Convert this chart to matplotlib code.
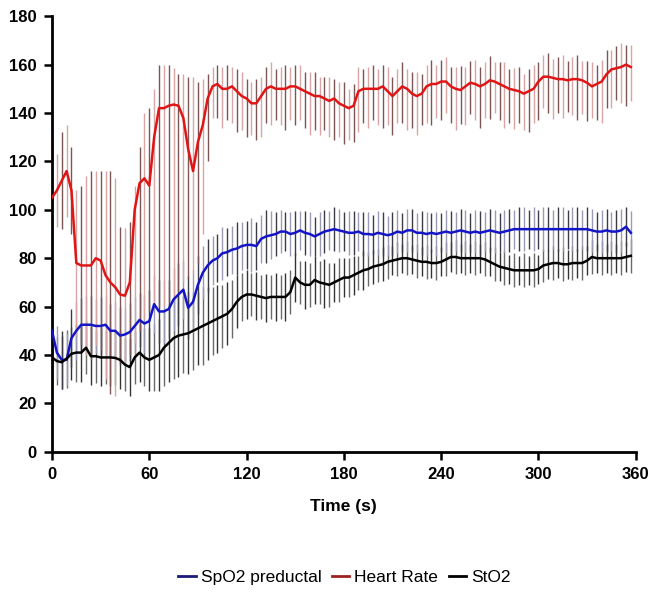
import numpy as np
import matplotlib
matplotlib.use("Agg")
import matplotlib.pyplot as plt
from matplotlib.lines import Line2D

plt.rcParams['font.family'] = ['Liberation Sans', 'DejaVu Sans']

# time grid (s)
time_s = list(range(0, 360, 3))

heart_rate = [105, 108, 112, 116, 108, 78, 77, 77, 77, 80, 79, 73, 70, 68, 65, 64.5, 70, 100, 111, 113,
              110, 130, 142, 142, 143, 143.5, 143, 138, 125, 116, 128, 135, 146, 151, 152, 150, 150, 151, 149, 147,
              146, 144, 144, 147, 150, 151, 150, 150, 150, 151, 151, 150, 149, 148, 147, 147, 146, 145, 146, 144,
              143, 142, 143, 149, 150, 150, 150, 150, 151, 149, 147, 149, 151, 150, 148, 147, 148, 151, 152, 152,
              153, 153, 151, 150, 149.5, 151, 152.5, 152, 151, 152, 153.5, 153, 152, 151, 150, 149.5, 149, 148, 149, 150,
              153, 155, 155, 154.5, 154, 154, 153.5, 154, 154, 153.5, 152.5, 151, 152, 153, 156, 158, 158.5, 159, 160, 159]
heart_rate_err_high = [22, 15, 20, 19, 18, 30, 33, 37, 39, 36, 37, 43, 46, 45, 28, 28, 25, 10, 15, 27,
                       32, 20, 18, 18, 17, 15, 13, 18, 30, 39, 25, 19, 10, 8, 8, 9, 10, 8, 9, 10,
                       8, 9, 10, 8, 9, 10, 8, 9, 10, 8, 9, 10, 8, 9, 10, 8, 9, 10, 8, 9,
                       10, 8, 9, 10, 8, 9, 10, 8, 9, 10, 8, 9, 10, 8, 9, 10, 8, 9, 10, 8,
                       9, 10, 8, 9, 10, 8, 9, 10, 8, 9, 10, 8, 9, 10, 8, 9, 10, 8, 9, 10,
                       8, 9, 10, 8, 9, 10, 8, 9, 10, 8, 9, 10, 8, 9, 10, 8, 9, 10, 8, 9]
heart_rate_err_low = [22, 15, 20, 19, 18, 30, 33, 37, 39, 36, 37, 43, 46, 45, 28, 28, 30, 55, 61, 58,
                      52, 70, 82, 82, 81, 80, 77, 68, 53, 42, 50, 45, 26, 13, 14, 16, 13, 15, 17, 14,
                      16, 13, 15, 17, 14, 16, 13, 15, 17, 14, 16, 13, 15, 17, 14, 16, 13, 15, 17, 14,
                      16, 13, 15, 17, 14, 16, 13, 15, 17, 14, 16, 13, 15, 17, 14, 16, 13, 15, 17, 14,
                      16, 13, 15, 17, 14, 16, 13, 15, 17, 14, 16, 13, 15, 17, 14, 16, 13, 15, 17, 14,
                      16, 13, 15, 17, 14, 16, 13, 15, 17, 14, 16, 13, 15, 17, 14, 16, 13, 15, 17, 14]

spo2 = [50, 41, 38, 38, 47, 50, 52.5, 52.5, 52.5, 52, 52, 52.5, 50, 50, 48, 48.5, 49.5, 52, 54.5, 53,
        54, 61, 58, 58, 59, 63, 65, 67, 59.5, 62, 69, 74, 77, 79, 80, 82, 82.5, 83.5, 84, 85,
        85.5, 85.5, 85, 88, 89, 89.5, 90, 91, 91, 90, 90.5, 91.5, 90.5, 90, 89, 90, 91, 91.5, 92, 91.5,
        91, 90.5, 90.5, 91, 90, 90, 89.7, 90.5, 90, 89.5, 90, 91, 90.5, 91.5, 91.5, 90.5, 90.5, 90, 90.5, 90,
        90.5, 91, 90.5, 91, 91.5, 91, 90.5, 91, 90.5, 91, 91.5, 91, 90.5, 91, 91.5, 92, 92, 92, 92, 92,
        92, 92, 92, 92, 92, 92, 92, 92, 92, 92, 92, 91.5, 91, 91, 91.5, 91, 91, 91.5, 93, 90.5]
spo2_err = [12, 11, 12, 11, 12, 12, 11, 12, 12, 11, 12, 12, 11, 12, 12, 11, 12, 12, 11, 12,
            13, 12, 13, 13, 12, 13, 13, 12, 13, 13, 12, 11, 11, 10, 10, 11, 10, 10, 11, 10,
            10, 11, 10, 10, 11, 10, 9, 9, 8, 9, 9, 8, 9, 9, 8, 9, 9, 8, 9, 9,
            8, 9, 9, 8, 9, 9, 8, 9, 9, 8, 9, 9, 8, 9, 9, 8, 9, 9, 8, 9,
            8, 9, 9, 8, 9, 9, 8, 9, 9, 8, 9, 9, 8, 9, 9, 8, 9, 9, 8, 9,
            8, 9, 9, 8, 9, 9, 8, 9, 9, 8, 9, 9, 8, 9, 9, 8, 9, 9, 8, 9]

sto2 = [39, 37.5, 37, 38.5, 40.5, 41, 41, 43, 39.5, 39.5, 39, 39, 39, 38.8, 38, 36, 35, 39, 41, 39,
        38, 39, 40, 43, 45, 47, 48, 48.5, 49, 50, 51, 52, 53, 54, 55, 56, 57, 59, 62, 64,
        65, 65, 64.5, 64, 63.5, 64, 64, 64, 64, 66, 72, 70, 69, 69, 71, 70, 69.5, 69, 70, 71,
        72, 72, 73, 74, 75, 75.5, 76.5, 77, 77.5, 78.5, 79, 79.5, 80, 80, 79.5, 79, 78.5, 78.5, 78, 78,
        78.5, 79.5, 80.5, 80.5, 80, 80, 80, 80, 80, 79.5, 78.5, 77.5, 76.5, 76, 75.5, 75, 75, 75, 75, 75,
        75.5, 77, 77.5, 78, 78, 77.5, 77.5, 78, 78, 78, 79, 80.5, 80, 80, 80, 80, 80, 80, 80.5, 81]
sto2_err = [11, 10, 11, 12, 11, 12, 12, 11, 12, 11, 12, 11, 12, 11, 12, 11, 12, 11, 12, 12,
            13, 14, 15, 16, 16, 17, 17, 16, 17, 16, 15, 16, 15, 14, 14, 13, 13, 12, 11, 10,
            10, 9, 10, 9, 10, 9, 10, 9, 10, 9, 10, 9, 10, 9, 10, 9, 10, 9, 8, 9,
            8, 8, 8, 7, 8, 7, 7, 7, 7, 7, 6, 7, 6, 7, 6, 7, 6, 7, 6, 7,
            6, 7, 6, 7, 6, 7, 6, 7, 6, 7, 6, 7, 6, 7, 6, 7, 6, 7, 6, 7,
            6, 7, 6, 7, 6, 7, 6, 7, 6, 7, 6, 7, 6, 7, 6, 7, 6, 7, 6, 7]

x_ticks = [0, 60, 120, 180, 240, 300, 360]
y_ticks = [0, 20, 40, 60, 80, 100, 120, 140, 160, 180]

fig = plt.figure(figsize=(6.5, 6.0), dpi=100)
ax = fig.add_axes([0.08, 0.247, 0.898, 0.726])

t = np.array(time_s)
hr = np.array(heart_rate)
sp = np.array(spo2)
st = np.array(sto2)
hr_lo = np.array(heart_rate_err_low)
hr_hi = np.array(heart_rate_err_high)
sp_e = np.array(spo2_err)
st_e = np.array(sto2_err)

ev = slice(0, None, 2)
od = slice(1, None, 2)
# StO2 bars
ax.errorbar(t[ev], st[ev], yerr=st_e[ev], fmt='none', ecolor='#333333', elinewidth=1.0, capsize=0, zorder=1)
ax.errorbar(t[od], st[od], yerr=st_e[od], fmt='none', ecolor='#6a6a6a', elinewidth=1.0, capsize=0, zorder=1)
# SpO2 bars
ax.errorbar(t[ev], sp[ev], yerr=sp_e[ev], fmt='none', ecolor='#3c3c48', elinewidth=1.0, capsize=0, zorder=1)
ax.errorbar(t[od], sp[od], yerr=sp_e[od], fmt='none', ecolor='#9a9ab4', elinewidth=1.0, capsize=0, zorder=1)
# Heart-rate bars
ax.errorbar(t[ev], hr[ev], yerr=[hr_lo[ev], hr_hi[ev]], fmt='none', ecolor='#7e5555', elinewidth=1.0, capsize=0, zorder=1)
ax.errorbar(t[od], hr[od], yerr=[hr_lo[od], hr_hi[od]], fmt='none', ecolor='#d8a4a4', elinewidth=1.0, capsize=0, zorder=1)

ax.plot(t, sp, color='#1515c8', lw=1.8, zorder=3)
ax.plot(t, hr, color='#e01515', lw=1.8, zorder=3)
ax.plot(t, st, color='black', lw=1.8, zorder=3)

ax.set_xlim(0, 360)
ax.set_ylim(0, 180)
ax.set_xticks(x_ticks)
ax.set_yticks(y_ticks)
for s in ['top', 'right']:
    ax.spines[s].set_visible(False)
for s in ['left', 'bottom']:
    ax.spines[s].set_linewidth(2)
ax.tick_params(direction='out', length=6, width=1.8, labelsize=12, pad=5)
for lab in ax.get_xticklabels() + ax.get_yticklabels():
    lab.set_fontweight('bold')
ax.set_xlabel('Time (s)', fontsize=12.5, fontweight='bold', labelpad=12)

handles = [Line2D([], [], color='#1a1a7a', lw=2),
           Line2D([], [], color='#a02020', lw=2),
           Line2D([], [], color='black', lw=2)]
fig.legend(handles, ['SpO2 preductal', 'Heart Rate', 'StO2'], loc='center',
           bbox_to_anchor=(0.53, 0.038), ncol=3, frameon=False, fontsize=12.5,
           handlelength=1.0, handletextpad=0.3, columnspacing=0.6)

fig.savefig('out.png', dpi=100)
